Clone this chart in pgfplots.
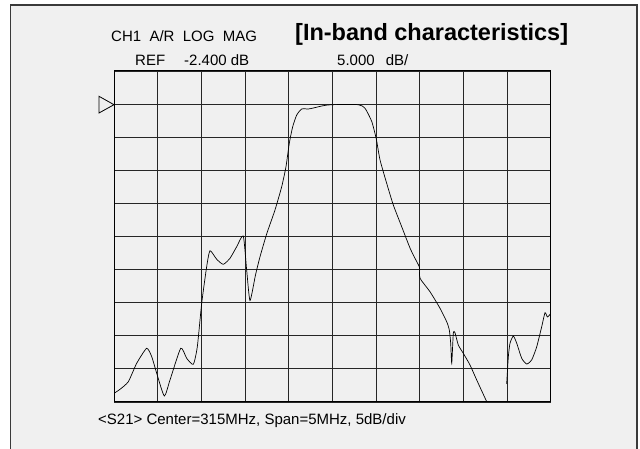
\documentclass[border=0pt]{standalone}
\usepackage{pgfplots}
\pgfplotsset{compat=1.18}
\usepackage{fontspec}
\setmainfont{Liberation Sans}

\definecolor{panel}{HTML}{F0F0F0}
\definecolor{frameline}{HTML}{3A3A3A}

\begin{document}
\begin{tikzpicture}[x=1pt,y=1pt]
\useasboundingbox (0,0) rectangle (640,449);
% instrument screen background
\draw[frameline, line width=1.1pt, fill=panel] (10.5,-20) rectangle (637,444);

\begin{axis}[
  at={(114pt,47pt)}, anchor=south west,
  scale only axis, width=436.7pt, height=331pt,
  xmin=312.5, xmax=317.5, ymin=-47.4, ymax=2.6,
  xtick={312.5,313,313.5,314,314.5,315,315.5,316,316.5,317,317.5},
  ytick={-47.4,-42.4,-37.4,-32.4,-27.4,-22.4,-17.4,-12.4,-7.4,-2.4,2.6},
  xticklabels={}, yticklabels={},
  major tick length=0pt,
  grid=major,
  grid style={black!85, line width=0.8pt},
  axis line style={black, line width=1pt},
  clip=true,
]
% S21 trace, segment 1
\addplot[black, line width=0.7pt, smooth, tension=0.35] coordinates {
(312.500,-46.09) (312.569,-45.48) (312.664,-44.33) (312.760,-41.55)
(312.874,-39.29) (312.932,-40.56) (312.989,-43.06) (313.076,-46.49)
(313.141,-44.08) (313.264,-39.29) (313.332,-40.80) (313.408,-41.71)
(313.454,-39.05) (313.504,-32.49) (313.561,-26.96) (313.599,-24.55)
(313.676,-25.84) (313.751,-26.60) (313.828,-25.69) (313.905,-23.94)
(313.980,-22.32) (314.019,-27.46) (314.057,-32.07) (314.120,-28.22)
(314.172,-25.45) (314.248,-22.02) (314.343,-18.40) (314.420,-14.88)
(314.469,-11.86) (314.507,-8.32) (314.546,-5.81) (314.592,-4.05)
(314.649,-3.14) (314.725,-3.14) (314.782,-2.99) (314.896,-2.64)
(314.993,-2.49) (315.297,-2.49) (315.374,-3.03) (315.451,-5.03)
(315.503,-7.67) (315.546,-10.84) (315.622,-14.36) (315.698,-17.64)
(315.794,-20.92) (315.889,-24.14) (315.946,-25.69) (315.998,-27.08)
(316.004,-28.71) (316.118,-30.74) (316.233,-33.25) (316.309,-35.27)
(316.339,-36.52) (316.355,-38.53) (316.367,-41.55) (316.385,-37.02)
(316.404,-36.93) (316.442,-38.79) (316.499,-40.04) (316.576,-41.81)
(316.653,-44.08) (316.767,-47.35) (316.828,-49.21)
};
% S21 trace, segment 2
\addplot[black, line width=0.7pt, smooth, tension=0.35] coordinates {
(316.996,-44.68) (317.015,-40.56) (317.034,-38.53) (317.072,-37.43)
(317.111,-38.53) (317.168,-40.80) (317.225,-41.66) (317.282,-41.06)
(317.340,-39.05) (317.397,-36.03) (317.435,-33.91) (317.463,-34.56)
(317.500,-34.03)
};
\end{axis}

% reference level marker
\draw[black, line width=0.8pt] (99,352.7) -- (114,344.3) -- (99,336) -- cycle;

\fontsize{15}{18}\selectfont
\node[anchor=base west, inner sep=0pt] at (111,407.7) {CH1\ \ A/R\ \ LOG\ \ MAG};
\node[anchor=base west, inner sep=0pt] at (135,383.3) {REF};
\node[anchor=base west, inner sep=0pt] at (184,383.3) {-2.400 dB};
\node[anchor=base west, inner sep=0pt] at (337,383.3) {5.000};
\node[anchor=base west, inner sep=0pt] at (385.7,383.3) {dB/};
\node[anchor=base west, inner sep=0pt] at (98,24.7) {<S21> Center=315MHz, Span=5MHz, 5dB/div};
\node[anchor=base west, inner sep=0pt, font=\fontsize{23.5}{28}\selectfont\bfseries] at (295,408.3) {[In-band characteristics]};
\end{tikzpicture}
\end{document}
